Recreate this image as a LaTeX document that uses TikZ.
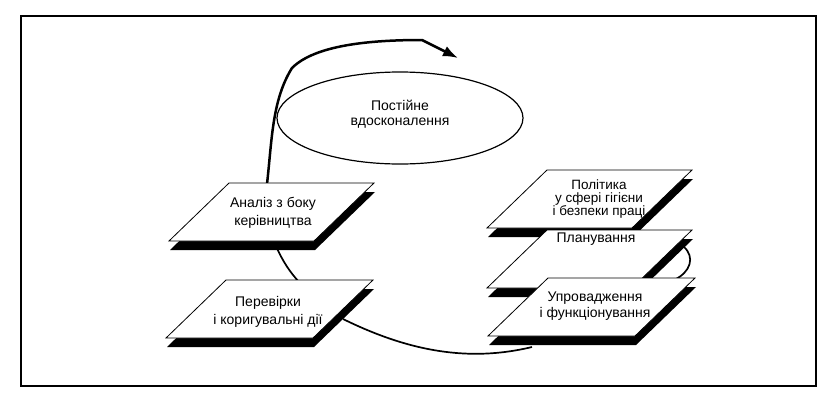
\documentclass[tikz,border=0pt]{standalone}
\usepackage{fontspec}
\setmainfont{Liberation Sans}
\usetikzlibrary{arrows.meta,shapes.geometric}
\newcommand\plate[4]{% #1 name, #2 x, #3 y (top-left corner), #4 top width
  \fill[black] (#2+1,#3+9) -- ++(#4,0) -- ++(-60,58) -- ++(-#4,0) -- cycle;
  \draw[boxline, fill=white] (#2,#3) -- ++(#4,0) -- ++(-60,58) -- ++(-#4,0) -- cycle;
  \coordinate (#1) at (#2+#4/2-30,#3+29);
}
\begin{document}
\begin{tikzpicture}[x=1pt,y=-1pt,
  boxline/.style={line width=0.8pt, line join=miter},
  conn/.style={line width=1.7pt},
  cycle arrow/.style={line width=2.5pt, -{Latex[length=15pt,width=11pt]}},
  lbl/.style={inner sep=0pt, align=center},
  f18/.style={font=\fontsize{14}{18}\selectfont},
  f16/.style={font=\fontsize{14}{16.5}\selectfont},
  f15/.style={font=\fontsize{14}{15}\selectfont},
  f12/.style={font=\fontsize{13.5}{13}\selectfont}]
\useasboundingbox (0,0) rectangle (836,405);
\fill[white] (0,0) rectangle (836,405);
% frame
\draw[line width=2pt] (21,16) rectangle (816,386);
% ellipse
\node[ellipse, draw, line width=1.2pt, minimum width=246pt, minimum height=92pt, inner sep=0pt] (ell) at (400,118) {};
\node[lbl, f15] (cit) at (400,114) {Постійне\\вдосконалення};
% connector anchor points
\coordinate (aTop) at (267,184);
\coordinate (aBot) at (276,246);
\coordinate (pTop) at (299,282);
\coordinate (pRight) at (343,319);
\coordinate (iBot) at (532,347);
\coordinate (plRight) at (684,247);
\coordinate (iTop) at (674,280);
\coordinate (ciEnd) at (458,58);
% connectors (behind plates)
\draw[cycle arrow] (aTop) .. controls (272,140) and (272,100) .. (292,68)
   .. controls (315,45) and (370,40) .. (422,40) -- (ciEnd);
\draw[conn] (aBot) .. controls (283,262) and (290,272) .. (pTop);
\draw[conn] (pRight) .. controls (410,352) and (470,362) .. (iBot);
\draw[conn] (plRight) .. controls (695,257) and (691,272) .. (iTop);
% left plates
\plate{analiz}{229}{183}{145}
\plate{perevirky}{226}{280}{147}
% right plates
\plate{polityka}{547}{170}{145}
\plate{planuvannia}{547}{230}{145}
\plate{uprovadzhennia}{548}{278}{147}
% texts
\node[lbl, f18] (tAnaliz) at (273,213) {Аналіз з боку\\керівництва};
\node[lbl, f18] (tPerev) at (268,312) {Перевірки\\і коригувальні дії};
\node[lbl, f12] (tPol) at (599,199) {Політика\\у сфері гігієни\\і безпеки праці};
\node[lbl, f16] (tPlan) at (596,239) {Планування};
\node[lbl, f16] (tUpr) at (595,306) {Упровадження\\і функціонування};
\end{tikzpicture}
\end{document}
